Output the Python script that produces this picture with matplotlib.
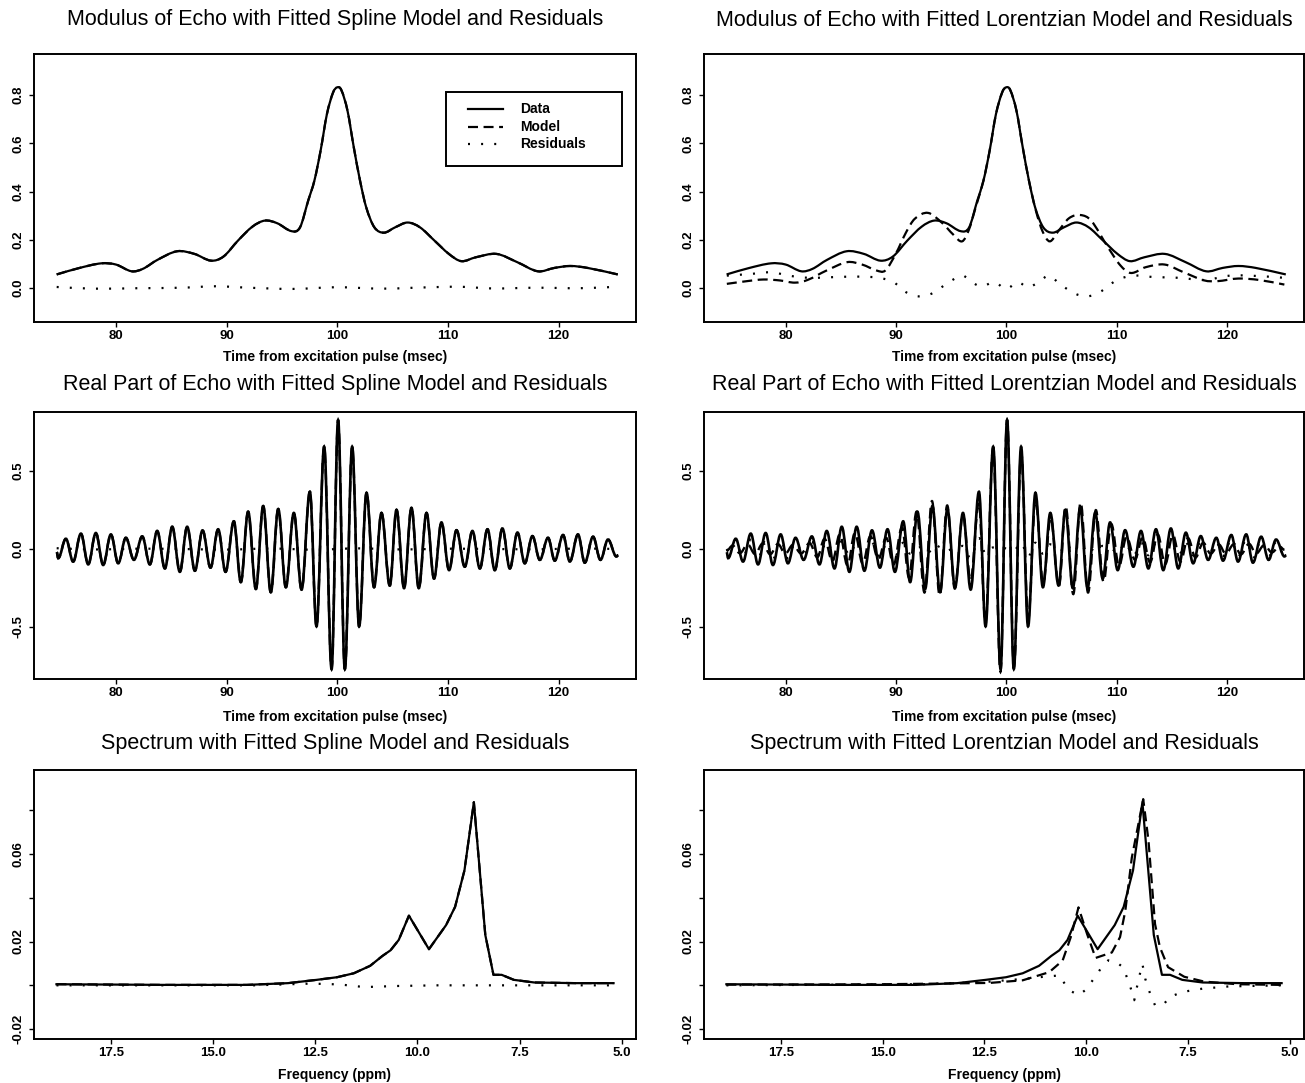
import numpy as np
import matplotlib
matplotlib.use("Agg")
import matplotlib.pyplot as plt
from matplotlib.path import Path
from matplotlib.patches import PathPatch, Rectangle
from matplotlib.lines import Line2D

plt.rcParams['font.family'] = ['Liberation Sans', 'DejaVu Sans']

# ---------------- data ----------------
# Modulus of echo (data, shared by both fits)
mod_t = [74.65, 76.64, 78.69, 80.0, 81.42, 82.43, 83.74, 85.53, 87.1, 88.6, 89.72, 91.03,
         92.34, 93.46, 94.58, 95.89, 96.64, 97.38, 97.94, 98.5, 99.07, 99.63, 100.0, 100.37,
         100.93, 101.5, 102.06, 102.62, 103.36, 104.22, 105.23, 106.36, 107.48, 108.79,
         110.09, 111.21, 112.52, 114.39, 116.26, 118.13, 119.63, 121.05, 122.62, 125.35]
mod_data = [0.057, 0.083, 0.103, 0.098, 0.070, 0.080, 0.117, 0.153, 0.142, 0.114, 0.131, 0.197,
            0.255, 0.280, 0.269, 0.236, 0.252, 0.363, 0.446, 0.570, 0.721, 0.811, 0.832, 0.821,
            0.735, 0.583, 0.446, 0.335, 0.252, 0.230, 0.252, 0.272, 0.252, 0.197,
            0.142, 0.112, 0.128, 0.142, 0.108, 0.070, 0.084, 0.092, 0.084, 0.057]
# spline fit residuals (modulus)
mod_spl_res_t = [74.65, 78, 82, 86, 89, 92, 96, 100, 104, 107, 111, 114, 118, 122, 125.35]
mod_spl_res = [0.005, -0.002, 0.0, 0.002, 0.008, 0.002, -0.003, 0.004, -0.002, 0.002, 0.006,
               -0.001, 0.002, 0.0, 0.006]
# Lorentzian model (modulus)
mod_lor_t = [74.67, 76.46, 77.98, 79.5, 80.84, 81.98, 83.7, 85.6, 86.93, 88.27, 89.03, 89.98,
             90.93, 91.7, 92.9, 94.2, 95.2, 96.0, 96.6, 97.2, 97.94, 98.5, 99.07, 99.63, 100.0,
             100.37, 100.93, 101.5, 102.06, 102.7, 103.3, 103.95, 104.7, 105.7, 106.74, 107.7,
             109.22, 110.36, 111.31, 112.65, 114.36, 116.08, 117.98, 119.12, 121.03, 122.93, 125.22]
mod_lor = [0.018, 0.029, 0.036, 0.032, 0.023, 0.034, 0.073, 0.108, 0.098, 0.073, 0.073, 0.142,
           0.232, 0.287, 0.312, 0.270, 0.222, 0.194, 0.240, 0.330, 0.446, 0.570, 0.720, 0.810, 0.834,
           0.820, 0.735, 0.583, 0.446, 0.320, 0.235, 0.194, 0.235, 0.290, 0.303, 0.280,
           0.170, 0.094, 0.063, 0.087, 0.098, 0.066, 0.032, 0.029, 0.040, 0.034, 0.015]
mod_lor_res_t = [74.67, 76.84, 78.74, 80.27, 82.17, 84.46, 86.74, 88.46, 89.79, 90.93, 92.08,
                 93.22, 94.36, 95.31, 96.08, 97.03, 97.79, 98.93, 100.0, 101.03, 101.98, 102.93,
                 103.89, 104.84, 106.17, 107.31, 108.46, 109.98, 111.5, 113.41, 115.7, 117.98,
                 120.27, 122.17, 125.22]
mod_lor_res = [0.052, 0.059, 0.066, 0.052, 0.043, 0.046, 0.048, 0.043, 0.025, -0.017, -0.034,
               -0.023, 0.011, 0.039, 0.052, 0.021, 0.007, 0.025, -0.003, 0.025, 0.004, 0.025,
               0.052, 0.018, -0.021, -0.034, -0.017, 0.032, 0.052, 0.046, 0.043, 0.034,
               0.052, 0.052, 0.043]

# Real part of echo: extrema of the data (shared)
real_t = [74.65, 74.79, 75.48, 76.14, 76.84, 77.50, 78.19, 78.85, 79.55, 80.21, 80.90, 81.63,
          82.38, 83.07, 83.73, 84.43, 85.09, 85.78, 86.44, 87.14, 87.83, 88.55, 89.24, 89.91,
          90.66, 91.29, 91.95, 92.65, 93.31, 94.00, 94.67, 95.36, 96.08, 96.78, 97.53, 98.13,
          98.82, 99.49, 100.08, 100.69, 101.35, 101.98, 102.65, 103.33, 104.00, 104.75, 105.36,
          106.04, 106.71, 107.37, 108.07, 108.75, 109.42, 110.11, 110.78, 111.53, 112.22,
          112.89, 113.58, 114.24, 114.93, 115.60, 116.29, 116.95, 117.64, 118.31, 119.05,
          119.66, 120.41, 121.02, 121.76, 122.37, 123.12, 123.79, 124.47, 125.23, 125.40]
real_data = [-0.020, -0.059, 0.066, -0.081, 0.099, -0.099, 0.103, -0.103, 0.094, -0.092, 0.072,
             -0.070, 0.081, -0.099, 0.116, -0.125, 0.143, -0.147, 0.143, -0.140, 0.120, -0.120,
             0.127, -0.147, 0.178, -0.213, 0.240, -0.257, 0.276, -0.278, 0.257, -0.246, 0.232,
             -0.261, 0.368, -0.498, 0.658, -0.772, 0.829, -0.772, 0.658, -0.498, 0.362, -0.246,
             0.232, -0.235, 0.252, -0.252, 0.265, -0.252, 0.232, -0.190, 0.171, -0.136, 0.121,
             -0.114, 0.116, -0.125, 0.127, -0.136, 0.132, -0.125, 0.105, -0.092, 0.083, -0.070,
             0.072, -0.075, 0.090, -0.081, 0.094, -0.088, 0.079, -0.070, 0.061, -0.048, -0.040]
real_spl_res_t = [74.65, 78, 82, 86, 90, 94, 98, 100, 102, 106, 110, 114, 118, 122, 125.4]
real_spl_res = [0.005, -0.003, 0.002, 0.0, -0.004, 0.003, -0.005, 0.0, 0.004, -0.003, 0.002,
                0.0, -0.002, 0.003, 0.0]
# Lorentzian model, real part (extrema)
real_lor_t = [74.65, 75.19, 75.85, 76.56, 77.23, 77.93, 78.60, 79.30, 79.97, 80.67, 81.41, 82.17,
              82.87, 83.53, 84.24, 84.91, 85.61, 86.28, 86.99, 87.68, 88.41, 89.11, 89.79, 90.55,
              91.19, 91.87, 92.59, 93.27, 93.97, 94.65, 95.34, 96.07, 96.77, 97.52, 98.12, 98.81,
              99.48, 100.08, 100.70, 101.36, 101.99, 102.66, 103.35, 104.03, 104.78, 105.39,
              106.08, 106.75, 107.42, 108.13, 108.82, 109.53, 110.23, 110.91, 111.67, 112.37,
              113.04, 113.74, 114.41, 115.11, 115.79, 116.49, 117.16, 117.86, 118.53, 119.28,
              119.90, 120.66, 121.27, 122.02, 122.65, 123.41, 124.09, 124.77, 125.23]
real_lor = [-0.012, 0.022, -0.027, 0.030, -0.033, 0.036, -0.034, 0.032, -0.030, 0.027, -0.029,
            0.038, -0.053, 0.066, -0.080, 0.095, -0.106, 0.103, -0.095, 0.082, -0.066, 0.072,
            -0.100, 0.140, -0.185, 0.240, -0.280, 0.308, -0.300, 0.280, -0.255, 0.220, -0.200,
            0.300, -0.470, 0.650, -0.790, 0.830, -0.760, 0.620, -0.450, 0.320, -0.220, 0.200,
            -0.240, 0.275, -0.290, 0.300, -0.280, 0.250, -0.210, 0.160, -0.110, 0.080, -0.068,
            0.076, -0.086, 0.094, -0.098, 0.090, -0.082, 0.070, -0.055, 0.040, -0.030, 0.029,
            -0.030, 0.032, -0.035, 0.033, -0.030, 0.026, -0.022, 0.017, -0.005]
real_lor_res = [0.0, -0.03, 0.04, -0.05, 0.06, -0.06, 0.06, -0.065, 0.06, -0.06, 0.045, -0.04,
                0.045, -0.045, 0.05, -0.045, 0.05, -0.04, 0.04, -0.045, 0.04, -0.05, 0.05, -0.045,
                0.04, -0.03, 0.01, 0.02, -0.03, 0.02, -0.01, 0.01, 0.02, -0.06, 0.07, -0.03, 0.01,
                0.02, 0.0, -0.01, 0.04, -0.05, 0.04, -0.03, 0.03, 0.01, -0.03, 0.04, -0.03, 0.03,
                -0.02, 0.02, 0.01, -0.03, 0.04, -0.045, 0.04, -0.04, 0.035, -0.04, 0.045, -0.045,
                0.04, -0.04, 0.045, -0.045, 0.045, -0.045, 0.06, -0.05, 0.06, -0.06, 0.055, -0.05,
                0.045, -0.04, -0.03]

# Spectrum (data, shared)
spec_f = [18.84, 16.19, 14.18, 13.17, 12.47, 11.97, 11.56, 11.16, 10.86, 10.66, 10.46, 10.21,
          9.72, 9.30, 9.08, 8.85, 8.62, 8.34, 8.14, 7.94, 7.64, 7.14, 6.13, 5.20]
spec_data = [0.0005, 0.0002, 0.0002, 0.001, 0.0025, 0.0037, 0.0055, 0.0089, 0.0134, 0.016,
             0.0207, 0.0318, 0.0165, 0.0275, 0.0358, 0.0525, 0.0836, 0.023, 0.0048, 0.0048,
             0.0025, 0.0013, 0.001, 0.001]
spec_spl_res_f = [18.84, 14.0, 12.6, 11.9, 11.3, 10.5, 9.5, 8.6, 7.5, 6.5, 5.2]
spec_spl_res = [0.0, 0.0, 0.0008, 0.0004, -0.0008, -0.0003, 0.0, 0.0, 0.0, 0.0, 0.0]
spec_lor_f = [18.84, 15.0, 13.58, 12.37, 11.56, 10.91, 10.58, 10.38, 10.19, 9.98, 9.77, 9.37,
              9.17, 9.04, 8.88, 8.72, 8.60, 8.47, 8.31, 8.19, 7.99, 7.59, 7.10, 6.29, 5.20]
spec_lor = [0.0003, 0.0005, 0.0008, 0.0011, 0.0023, 0.006, 0.0113, 0.022, 0.0356, 0.0235,
            0.0125, 0.015, 0.022, 0.034, 0.0583, 0.0735, 0.0850, 0.066, 0.028, 0.0174, 0.0083,
            0.0039, 0.0017, 0.0005, 0.0002]
spec_lor_res_f = [18.84, 14.0, 12.5, 11.5, 11.0, 10.66, 10.51, 10.35, 10.19, 10.03, 9.78, 9.62,
                  9.46, 9.26, 9.10, 8.94, 8.82, 8.72, 8.62, 8.55, 8.43, 8.31, 8.11, 7.95, 7.63,
                  7.14, 6.5, 5.2]
spec_lor_res = [0.0, 0.0005, 0.0015, 0.003, 0.004, 0.0045, 0.0002, -0.0029, -0.0045, -0.0023,
                0.0038, 0.0083, 0.0114, 0.0106, 0.0083, 0.0008, -0.0068, 0.0023, 0.0098, 0.003,
                -0.0038, -0.0091, -0.009, -0.0053, -0.003, -0.0015, -0.0005, 0.0]

titles = [["Modulus of Echo with Fitted Spline Model and Residuals",
           "Modulus of Echo with Fitted Lorentzian Model and Residuals"],
          ["Real Part of Echo with Fitted Spline Model and Residuals",
           "Real Part of Echo with Fitted Lorentzian Model and Residuals"],
          ["Spectrum with Fitted Spline Model and Residuals",
           "Spectrum with Fitted Lorentzian Model and Residuals"]]
xlabels = ["Time from excitation pulse (msec)", "Time from excitation pulse (msec)",
           "Frequency (ppm)"]
legend_labels = ["Data", "Model", "Residuals"]
time_ticks = [80, 90, 100, 110, 120]
time_ticklabels = ['80', '90', '100', '110', '120']
mod_yticks = [0.0, 0.2, 0.4, 0.6, 0.8]
mod_yticklabels = ['0.0', '0.2', '0.4', '0.6', '0.8']
real_yticks = [-0.5, 0.0, 0.5]
real_yticklabels = ['-0.5', '0.0', '0.5']
freq_ticks = [17.5, 15.0, 12.5, 10.0, 7.5, 5.0]
freq_ticklabels = ['17.5', '15.0', '12.5', '10.0', '7.5', '5.0']
spec_yticks = [-0.02, 0.0, 0.02, 0.04, 0.06, 0.08]
spec_yticklabels = ['-0.02', '', '0.02', '', '0.06', '']

# ---------------- styles ----------------
SOLID = dict(color='black', lw=1.6, linestyle='-')
DASH = dict(color='black', lw=1.6, linestyle=(0, (4.5, 2.5)))
DOT = dict(color='black', lw=1.6, linestyle=(0, (0.9, 5.0)))
SOLID_RE = dict(color='black', lw=1.9, linestyle='-')
DASH_RE = dict(color='black', lw=1.7, linestyle=(0, (4.5, 2.5)))


def curve_path(x, y, mode):
    """Smooth Bezier path through the given points (extrema: horizontal tangents)."""
    x = np.asarray(x, float)
    y = np.asarray(y, float)
    n = len(x)
    if mode == 'hermite':
        m = np.zeros(n)
        m[1:-1] = (y[2:] - y[:-2]) / (x[2:] - x[:-2])
        m[0] = (y[1] - y[0]) / (x[1] - x[0])
        m[-1] = (y[-1] - y[-2]) / (x[-1] - x[-2])
    verts = [(x[0], y[0])]
    codes = [Path.MOVETO]
    for i in range(n - 1):
        d = x[i + 1] - x[i]
        if mode == 'extrema':
            c1 = (x[i] + 0.3642 * d, y[i])
            c2 = (x[i + 1] - 0.3642 * d, y[i + 1])
        else:
            c1 = (x[i] + d / 3, y[i] + m[i] * d / 3)
            c2 = (x[i + 1] - d / 3, y[i + 1] - m[i + 1] * d / 3)
        verts += [c1, c2, (x[i + 1], y[i + 1])]
        codes += [Path.CURVE4] * 3
    return Path(verts, codes)


def draw(ax, x, y, style, mode):
    if mode == 'linear':
        ax.plot(x, y, **style)
    else:
        ax.add_patch(PathPatch(curve_path(x, y, mode), fill=False, edgecolor=style['color'],
                               lw=style['lw'], linestyle=style['linestyle']))


W, H = 1305, 1083
fig = plt.figure(figsize=(W / 100, H / 100), dpi=100)
col_x = [34, 704]
col_w = [602, 600]
row_top = [54, 412, 770]
row_h = [268, 267, 269]
title_y = [20, 385, 743]
xlabel_y = [357, 717, 1075]
TICKFS = 9.5

axes = [[None, None] for _ in range(3)]
for r in range(3):
    for c in range(2):
        ax = fig.add_axes([col_x[c] / W, 1 - (row_top[r] + row_h[r]) / H,
                           col_w[c] / W, row_h[r] / H])
        axes[r][c] = ax
        for s in ax.spines.values():
            s.set_linewidth(1.4)
        ax.tick_params(direction='out', length=3.6, width=1.0, top=False, right=False)
        ax.tick_params(axis='x', pad=2.0)
        ax.tick_params(axis='y', pad=3.0, labelrotation=90)
        cx = (col_x[c] + col_w[c] / 2) / W
        fig.text(cx, 1 - title_y[r] / H, titles[r][c], ha='center', va='center', fontsize=15.5)
        fig.text(cx, 1 - xlabel_y[r] / H, xlabels[r], ha='center', va='center', fontsize=10,
                 fontweight='bold')

TK = dict(fontweight='bold', fontsize=TICKFS)

# Row 1: modulus
for c in range(2):
    ax = axes[0][c]
    ax.set_xlim(72.6, 127.0)
    ax.set_ylim(-0.14, 0.97)
    ax.set_xticks(time_ticks)
    ax.set_xticklabels(time_ticklabels, **TK)
    ax.set_yticks(mod_yticks)
    ax.set_yticklabels(mod_yticklabels, va='center', **TK)
draw(axes[0][0], mod_spl_res_t, mod_spl_res, DOT, 'hermite')
draw(axes[0][0], mod_t, mod_data, DASH, 'hermite')
draw(axes[0][0], mod_t, mod_data, SOLID, 'hermite')
draw(axes[0][1], mod_lor_res_t, mod_lor_res, DOT, 'hermite')
draw(axes[0][1], mod_lor_t, mod_lor, DASH, 'hermite')
draw(axes[0][1], mod_t, mod_data, SOLID, 'hermite')

# legend (top-left panel)
lax = axes[0][0]
lax.add_patch(Rectangle((0.6844, 0.5821), 0.9767 - 0.6844, 0.8582 - 0.5821,
                        transform=lax.transAxes, fill=False, edgecolor='black', lw=1.4))
for yy, st, lab in zip([0.7948, 0.7276, 0.6642], [SOLID, DASH, DOT], legend_labels):
    lax.add_line(Line2D([0.7209, 0.7791], [yy, yy], transform=lax.transAxes, **st))
    lax.text(0.8073, yy, lab, transform=lax.transAxes, ha='left', va='center', fontsize=10,
             fontweight='bold')

# Row 2: real part
for c in range(2):
    ax = axes[1][c]
    ax.set_xlim(72.6, 127.0)
    ax.set_ylim(-0.836, 0.881)
    ax.set_xticks(time_ticks)
    ax.set_xticklabels(time_ticklabels, **TK)
    ax.set_yticks(real_yticks)
    ax.set_yticklabels(real_yticklabels, va='center', **TK)
draw(axes[1][0], real_spl_res_t, real_spl_res, DOT, 'hermite')
draw(axes[1][0], real_t, real_data, DASH_RE, 'extrema')
draw(axes[1][0], real_t, real_data, SOLID_RE, 'extrema')
draw(axes[1][1], real_t, real_lor_res, DOT, 'extrema')
draw(axes[1][1], real_lor_t, real_lor, DASH_RE, 'extrema')
draw(axes[1][1], real_t, real_data, SOLID_RE, 'extrema')

# Row 3: spectrum
for c in range(2):
    ax = axes[2][c]
    ax.set_xlim(19.39, 4.65)
    ax.set_ylim(-0.0245, 0.0983)
    ax.set_xticks(freq_ticks)
    ax.set_xticklabels(freq_ticklabels, **TK)
    ax.set_yticks(spec_yticks)
    ax.set_yticklabels(spec_yticklabels, va='center', **TK)
draw(axes[2][0], spec_spl_res_f, spec_spl_res, DOT, 'linear')
draw(axes[2][0], spec_f, spec_data, DASH, 'linear')
draw(axes[2][0], spec_f, spec_data, SOLID, 'linear')
draw(axes[2][1], spec_lor_res_f, spec_lor_res, DOT, 'linear')
draw(axes[2][1], spec_lor_f, spec_lor, DASH, 'linear')
draw(axes[2][1], spec_f, spec_data, SOLID, 'linear')

fig.savefig("out.png", dpi=100)
